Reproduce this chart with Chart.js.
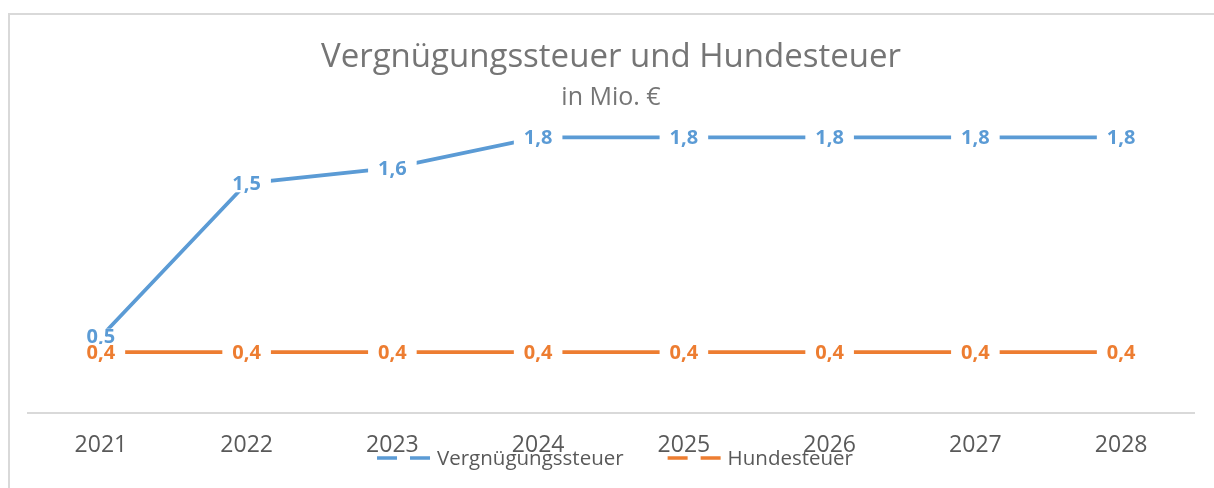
<!DOCTYPE html>
<html>
<head>
<meta charset="utf-8">
<script src="https://cdn.jsdelivr.net/npm/chart.js@4.4.1/dist/chart.umd.min.js"></script>
<style>
  html, body { margin: 0; padding: 0; background: #fff; }
  #wrap { position: relative; width: 1214px; height: 488px; }
</style>
</head>
<body>
<div id="wrap"><canvas id="chart" width="1214" height="488"></canvas></div>
<script>
// Daten (in Mio. €)
const jahre = ['2021', '2022', '2023', '2024', '2025', '2026', '2027', '2028'];
const vergnuegungssteuer = [0.5, 1.5, 1.6, 1.8, 1.8, 1.8, 1.8, 1.8];
const hundesteuer = [0.4, 0.4, 0.4, 0.4, 0.4, 0.4, 0.4, 0.4];

const BLAU = '#5B9BD5';
const ORANGE = '#ED7D31';
const SCHRIFT = '"Open Sans", "Liberation Sans", sans-serif';

// Rahmen wie im Excel-Diagramm (oben und links sichtbar)
const rahmenPlugin = {
    id: 'rahmen',
    beforeDraw(chart) {
        const ctx = chart.ctx;
        ctx.save();
        ctx.strokeStyle = '#d9d9d9';
        ctx.lineWidth = 2;
        ctx.beginPath();
        ctx.moveTo(9, chart.height);
        ctx.lineTo(9, 14);
        ctx.lineTo(chart.width, 14);
        ctx.stroke();
        ctx.restore();
    }
};

// Datenbeschriftungen mit weißem Hintergrund
const beschriftungPlugin = {
    id: 'beschriftung',
    afterDatasetsDraw(chart) {
        const ctx = chart.ctx;
        ctx.save();
        ctx.font = 'bold 20px ' + SCHRIFT;
        ctx.textAlign = 'center';
        ctx.textBaseline = 'middle';
        chart.data.datasets.forEach((ds, i) => {
            const meta = chart.getDatasetMeta(i);
            meta.data.forEach((pt, j) => {
                const text = ds.data[j].toFixed(1).replace('.', ',');
                const w = ctx.measureText(text).width;
                ctx.fillStyle = '#ffffff';
                ctx.fillRect(pt.x - w / 2 - 10, pt.y - 8, w + 20, 17);
                ctx.fillStyle = ds.borderColor;
                ctx.fillText(text, pt.x, pt.y + 1);
            });
        });
        ctx.restore();
    }
};

// Legende überlappt die Achsenbeschriftung, daher selbst gezeichnet
const legendePlugin = {
    id: 'legende',
    afterDraw(chart) {
        const ctx = chart.ctx;
        ctx.save();
        ctx.font = '20.5px ' + SCHRIFT;
        ctx.textBaseline = 'middle';
        const symbolBreite = 53, abstand = 7, itemAbstand = 44;
        const items = chart.data.datasets.map(ds => ({
            label: ds.label, farbe: ds.borderColor,
            breite: symbolBreite + abstand + ctx.measureText(ds.label).width
        }));
        const gesamt = items.reduce((s, it) => s + it.breite, 0) + itemAbstand * (items.length - 1);
        let x = chart.width / 2 - gesamt / 2 + 8;
        const y = 458;
        items.forEach(it => {
            ctx.strokeStyle = it.farbe;
            ctx.lineWidth = 3.5;
            ctx.setLineDash([20, 13]);
            ctx.beginPath();
            ctx.moveTo(x, y);
            ctx.lineTo(x + symbolBreite, y);
            ctx.stroke();
            ctx.setLineDash([]);
            ctx.fillStyle = '#595959';
            ctx.fillText(it.label, x + symbolBreite + abstand, y + 1);
            x += it.breite + itemAbstand;
        });
        ctx.restore();
    }
};

new Chart(document.getElementById('chart'), {
    type: 'line',
    data: {
        labels: jahre,
        datasets: [
            {
                label: 'Vergnügungssteuer',
                data: vergnuegungssteuer,
                borderColor: BLAU,
                backgroundColor: BLAU,
                borderWidth: 3.8,
                pointRadius: 0,
                tension: 0
            },
            {
                label: 'Hundesteuer',
                data: hundesteuer,
                borderColor: ORANGE,
                backgroundColor: ORANGE,
                borderWidth: 3.8,
                pointRadius: 0,
                tension: 0
            }
        ]
    },
    options: {
        responsive: false,
        animation: false,
        layout: { padding: { left: 28, right: 20, top: 0, bottom: 11 } },
        plugins: {
            legend: { display: false },
            tooltip: { enabled: false },
            title: {
                display: true,
                text: 'Vergnügungssteuer und Hundesteuer',
                color: '#757575',
                font: { family: SCHRIFT, size: 33, weight: 'normal', lineHeight: 1.2 },
                padding: { top: 38, bottom: 8 }
            },
            subtitle: {
                display: true,
                text: 'in Mio. €',
                color: '#757575',
                font: { family: SCHRIFT, size: 25, weight: 'normal', lineHeight: 1.0 },
                padding: { top: 0, bottom: -4 }
            }
        },
        scales: {
            x: {
                offset: true,
                grid: { display: false, drawTicks: false },
                border: { display: true, color: '#d9d9d9', width: 2 },
                ticks: {
                    color: '#595959',
                    font: { family: SCHRIFT, size: 23 },
                    padding: 18,
                    maxRotation: 0
                }
            },
            y: {
                display: false,
                min: 0,
                max: 2
            }
        }
    },
    plugins: [rahmenPlugin, beschriftungPlugin, legendePlugin]
});
</script>
</body>
</html>
